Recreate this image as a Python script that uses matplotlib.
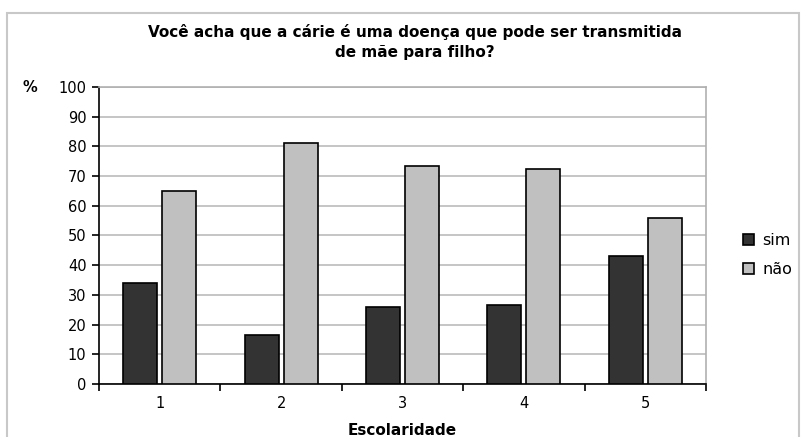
import matplotlib.pyplot as plt
import numpy as np
from matplotlib.patches import Rectangle

plt.rcParams['font.family'] = ['DejaVu Sans']

escolaridade = ['1', '2', '3', '4', '5']
sim = [34, 16.5, 26, 26.5, 43]
nao = [65, 81, 73.5, 72.5, 56]
yticks = list(range(0, 101, 10))

fig = plt.figure(figsize=(8.05, 4.37), dpi=100)
# chart area frame
fig.patches.append(Rectangle((7 / 805, -0.05), 792 / 805, 1.05 - 13 / 437,
                             transform=fig.transFigure, fill=False,
                             edgecolor='#c8c8c8', linewidth=1.5))

ax = fig.add_axes([99 / 805, 1 - 384 / 437, 607 / 805, 297 / 437])
x = np.arange(len(escolaridade))
w = 0.28
ax.bar(x - 0.16, sim, w, color='#333333', edgecolor='black', linewidth=1.2,
       label='sim', zorder=3)
ax.bar(x + 0.16, nao, w, color='#c0c0c0', edgecolor='black', linewidth=1.2,
       label='não', zorder=3)

ax.set_xlim(-0.5, len(escolaridade) - 0.5)
ax.set_ylim(0, 100)
ax.set_yticks(yticks)
ax.set_yticklabels([str(v) for v in yticks], fontsize=10.5)
ax.set_xticks(x)
ax.set_xticklabels(escolaridade, fontsize=10.5)
ax.tick_params(axis='x', length=0, pad=9)
# category boundary ticks
ax.set_xticks(np.arange(-0.5, len(escolaridade)), minor=True)
ax.tick_params(axis='x', which='minor', length=5, width=1.2, direction='out')
ax.tick_params(axis='y', length=5, width=1.2, direction='out', pad=4)

ax.grid(axis='y', color='#c0c0c0', linewidth=1.3, zorder=0)
for s in ['left', 'bottom']:
    ax.spines[s].set_linewidth(1.2)
for s in ['top', 'right']:
    ax.spines[s].set_color('#b0b0b0')
    ax.spines[s].set_linewidth(1.2)

ax.set_xlabel('Escolaridade', fontsize=11, fontweight='bold', labelpad=8)
fig.text(22 / 805, 1 - 88 / 437, '%', fontsize=10.5, fontweight='bold',
         va='center', ha='left')
fig.text(415 / 805, 1 - 42 / 437,
         'Você acha que a cárie é uma doença que pode ser transmitida\nde mãe para filho?',
         fontsize=11, fontweight='bold', ha='center', va='center',
         linespacing=1.35)

ax.legend(loc='center left', bbox_to_anchor=(1.061, 0.434), frameon=False,
          fontsize=11.5, handlelength=0.7, handleheight=0.7,
          handletextpad=0.5, labelspacing=0.85, borderpad=0,
          borderaxespad=0)

fig.savefig('out.png', dpi=100)
